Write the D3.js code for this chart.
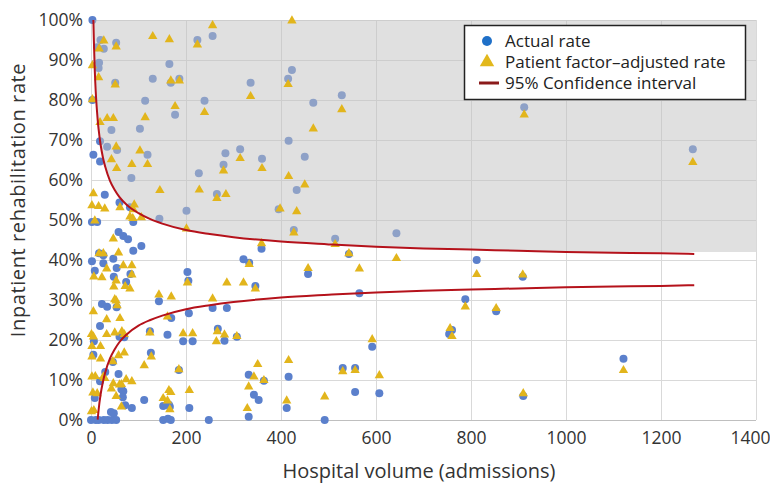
<!DOCTYPE html>
<html>
<head>
<meta charset="utf-8">
<script src="https://cdn.jsdelivr.net/npm/d3@7"></script>
<style>
  body { margin: 0; background: #fff; }
  svg { display: block; font-family: "Open Sans", Roboto, sans-serif; }
</style>
</head>
<body>
<script>
// [volume, rate %]
const actualPoints = [
  [3,100],[20,95],[13,93.2],[27,92.8],[53,94.3],[17,89.3],[16,88],[51,84.3],[130,85.3],[165,89],
  [186,85.3],[168,84.3],[224,95],[256,96],[336,84.3],[114,79.8],[239,79.8],[177,76.3],[3,80],[43,72.5],
  [103,72.8],[19,69.7],[34,68.3],[55,67.5],[5,66.3],[19,64.6],[119,66.3],[227,61.7],[283,66.7],[279,63.8],
  [314,67.7],[360,65.3],[85,60.5],[29,56.3],[265,56.5],[60,54.4],[82,53.2],[201,52.3],[144,50.3],[395,52.7],
  [423,87.5],[415,85.3],[528,81.2],[468,79.3],[416,69.8],[450,65.8],[433,57.5],[912,78.2],[1267,67.7],
  [2,49.5],[13,49.5],[89,49.5],[58,47],[68,46],[78,45.2],[89,42.3],[106,43.5],[17,41.7],[26,41.2],
  [2,39.7],[26,39.2],[47,40.3],[8,37.3],[54,38],[203,37],[83,36.5],[74,34.5],[48,35.8],[205,34.8],
  [321,40.2],[333,39.3],[346,33.5],[359,42.8],[143,29.7],[256,28],[286,28],[206,26.7],[23,29],[34,28.3],
  [54,28.2],[169,25.5],[19,23.5],[267,22.8],[6,19.7],[60,20.8],[70,20.7],[124,22.2],[161,21.3],[194,19.7],
  [214,19.7],[281,19.8],[307,20.8],[5,16.3],[126,16.8],[46,14.5],[185,12.5],[30,12],[58,11.5],[19,9.7],
  [64,7.7],[68,7.2],[112,5],[8,5.5],[67,5.7],[72,3.7],[86,3],[152,3.5],[164,3.8],[166,3.3],
  [42,2],[48,1.7],[207,3],[332,11.3],[364,9.8],[343,6.3],[353,5],
  [0,0],[10,0],[16,0],[27,0],[35,0],[44,0],[53,0],[152,0],[162,0.3],[168,0],[248,0],[332,0.8],[492,0],
  [427,47.5],[514,45.3],[643,46.7],[543,41.5],[457,36.5],[565,31.7],[812,40],[788,30.2],[853,27.2],[760,22.5],
  [754,21.5],[592,18.3],[416,10.8],[530,13],[556,13],[556,7],[607,6.7],[412,3],
  [909,35.8],[1121,15.3],[910,6]
];

const adjustedPoints = [
  [27,94.7],[17,92.7],[53,93.2],[130,95.8],[165,95],[256,98.5],[224,93.7],[3,88.5],[16,85.5],[51,83.7],
  [168,84.7],[186,84.7],[336,80.8],[3,80],[177,78.3],[114,75.5],[239,76.8],[34,75.3],[47,75.3],[19,74.3],
  [53,68.2],[103,67.2],[43,65],[54,62.8],[86,63.8],[119,63.8],[279,62.2],[314,65.3],[360,62.8],[145,57.3],
  [228,57.4],[265,55.3],[284,56.3],[5,56.5],[2,53.5],[16,53.3],[29,52.7],[61,53],[89,52.5],[91,53.7],
  [423,99.7],[415,83.8],[528,77.5],[468,72.7],[416,60.8],[450,58.7],[398,52.7],[433,52],[912,76.2],[1267,64.3],
  [8,49.7],[82,50.7],[88,50.3],[106,50.5],[201,47.7],[47,45.2],[17,41.5],[26,41.5],[58,41.7],[33,37.7],
  [68,38.5],[86,38.5],[6,35.7],[23,35.5],[86,36.2],[53,34.7],[72,33.3],[48,33.2],[82,32.7],[203,34.2],
  [286,34.2],[321,34.2],[333,38.8],[346,32.7],[359,44],[143,31.2],[169,30.7],[256,30.2],[50,30],[53,29.7],
  [55,28.5],[5,27],[33,25],[61,25.3],[161,25.7],[266,22],[1,21.3],[5,20.7],[33,21.3],[50,21.7],
  [65,22],[70,21.3],[124,21.7],[194,21.5],[214,21.5],[281,21.2],[307,20.8],[264,19.5],[2,18.3],[20,18.3],
  [2,15.7],[20,15.2],[127,15.7],[70,16.7],[58,16],[46,14.5],[112,13.5],[185,12.5],[2,10.7],[9,10.8],
  [26,10.7],[29,10.3],[47,9],[60,8.7],[64,8.8],[74,10],[86,9.5],[4,6.7],[13,6.5],[43,7.7],
  [53,5.8],[164,7.3],[168,6.8],[207,7.3],[152,5.3],[161,4.7],[64,3.2],[166,2.5],[1,2],[6,2.3],
  [329,2.8],[351,13.8],[343,10.7],[364,9.8],[332,8.2],
  [427,46.7],[514,43.8],[543,41.5],[643,40.3],[457,37.8],[565,37.7],[812,36.3],[788,28.2],[853,27.8],[756,22.8],
  [760,20.8],[592,20],[416,14.8],[530,12],[556,12.3],[607,11],[492,5.7],[412,4.7],
  [909,36.2],[1121,12.3],[910,6.5]
];

// 95% confidence limits, read along the funnel
const ciVolume = [5,6,8,10,12,14,16,20,25,30,40,50,60,75,100,125,150,200,250,300,400,500,600,700,800,900,1000,1100,1200,1270];
const ciUpper  = [100,95.0,87.3,82.0,78.2,75.1,72.7,69.0,65.7,63.3,59.8,57.5,55.7,53.8,51.7,50.2,49.1,47.5,46.5,45.7,44.6,43.9,43.3,42.9,42.6,42.3,42.0,41.8,41.7,41.5];
const ciLower  = [null,null,null,null,null,0.1,2.5,6.2,9.5,11.9,15.4,17.7,19.5,21.4,23.6,25.0,26.1,27.7,28.7,29.5,30.6,31.3,31.9,32.3,32.6,32.9,33.2,33.4,33.5,33.7];

const xTicks = [0,200,400,600,800,1000,1200,1400];
const yTicks = [0,10,20,30,40,50,60,70,80,90,100];

const legendItems = ['Actual rate', 'Patient factor\u2013adjusted rate', '95% Confidence interval'];

const width = 770, height = 484;
const svg = d3.select('body').append('svg')
    .attr('width', width)
    .attr('height', height);

const x = d3.scaleLinear().domain([0, 1400]).range([91, 756]);
const y = d3.scaleLinear().domain([0, 100]).range([420, 20]);

// gridlines
const grid = svg.append('g').attr('stroke', '#d9d9d9').attr('stroke-width', 1);
grid.selectAll('.gy').data(yTicks).enter().append('line')
    .attr('x1', x(0)).attr('x2', x(1400))
    .attr('y1', d => y(d) + 0.5).attr('y2', d => y(d) + 0.5)
    .attr('stroke', d => d === 0 ? '#bfbfbf' : '#d9d9d9');
grid.selectAll('.gx').data(xTicks).enter().append('line')
    .attr('x1', d => x(d) + 0.5).attr('x2', d => x(d) + 0.5)
    .attr('y1', y(100)).attr('y2', y(0));

// actual rate circles
svg.append('g').selectAll('circle')
    .data(actualPoints)
    .enter().append('circle')
    .attr('cx', d => x(d[0]))
    .attr('cy', d => y(d[1]))
    .attr('r', 4)
    .attr('fill', '#5b80cc');

// shaded region above the upper limit
const ci = ciVolume.map((v, i) => ({v, up: ciUpper[i], lo: ciLower[i]}));
const shadeTop = ci.filter(d => d.v <= 1000);
const lastUp = shadeTop[shadeTop.length - 1].up;
const shade = [{v: 0, up: 100}].concat(shadeTop, [{v: 1400, up: lastUp}]);
svg.append('path')
    .datum(shade)
    .attr('d', d3.area()
        .x(d => x(d.v))
        .y0(y(100))
        .y1(d => y(d.up))
        .curve(d3.curveMonotoneX))
    .attr('fill', 'rgba(194,194,194,0.5)');

// adjusted rate triangles
const tri = d3.symbol().type(d3.symbolTriangle).size(38);
svg.append('g').selectAll('path')
    .data(adjustedPoints)
    .enter().append('path')
    .attr('d', tri)
    .attr('transform', d => `translate(${x(d[0])},${y(d[1]) - 0.5})`)
    .attr('fill', '#e2b51c');

// confidence limits
const upperLine = d3.line().x(d => x(d.v)).y(d => y(d.up)).curve(d3.curveMonotoneX);
const lowerLine = d3.line().defined(d => d.lo !== null).x(d => x(d.v)).y(d => y(d.lo)).curve(d3.curveMonotoneX);
svg.append('path').datum(ci).attr('d', upperLine)
    .attr('fill', 'none').attr('stroke', '#b5121b').attr('stroke-width', 2);
svg.append('path').datum(ci).attr('d', lowerLine)
    .attr('fill', 'none').attr('stroke', '#b5121b').attr('stroke-width', 2);

// axes labels
const xAxis = svg.append('g')
    .attr('transform', `translate(0,${y(0)})`)
    .call(d3.axisBottom(x).tickValues(xTicks).tickSize(0).tickPadding(12).tickFormat(d3.format('d')));
xAxis.select('.domain').remove();
xAxis.selectAll('text').attr('font-size', 17.5).attr('fill', '#333')
    .attr('dx', d => d === 1400 ? -6 : 0);

const yAxis = svg.append('g')
    .attr('transform', `translate(${x(0)},0)`)
    .call(d3.axisLeft(y).tickValues(yTicks).tickSize(0).tickPadding(8).tickFormat(d => d + '%'));
yAxis.select('.domain').remove();
yAxis.selectAll('text').attr('font-size', 17.5).attr('fill', '#333');
svg.selectAll('.tick text').attr('font-family', '"Open Sans", sans-serif');

svg.append('text')
    .attr('x', 419).attr('y', 478)
    .attr('text-anchor', 'middle')
    .attr('font-size', 20).attr('fill', '#333')
    .text('Hospital volume (admissions)');

svg.append('text')
    .attr('transform', 'translate(25,200) rotate(-90)')
    .attr('text-anchor', 'middle')
    .attr('font-size', 20).attr('fill', '#333')
    .attr('letter-spacing', 0.6)
    .text('Inpatient rehabilitation rate');

// legend
const legend = svg.append('g');
legend.append('rect')
    .attr('x', 464.5).attr('y', 25.5).attr('width', 281).attr('height', 74)
    .attr('fill', '#fff').attr('stroke', '#222').attr('stroke-width', 1.5);
const ly = [41, 62, 83];
legend.append('circle').attr('cx', 487).attr('cy', ly[0]).attr('r', 5).attr('fill', '#1f70c8');
legend.append('path').attr('d', d3.symbol().type(d3.symbolTriangle).size(90))
    .attr('transform', `translate(487,${ly[1]})`).attr('fill', '#e2b81c');
legend.append('line').attr('x1', 479).attr('x2', 499).attr('y1', ly[2]).attr('y2', ly[2])
    .attr('stroke', '#8b1a1a').attr('stroke-width', 3);
legend.selectAll('text').data(legendItems).enter().append('text')
    .attr('x', 505).attr('y', (d, i) => ly[i])
    .attr('dy', '0.35em')
    .attr('font-size', 17).attr('fill', '#222')
    .text(d => d);
</script>
</body>
</html>
